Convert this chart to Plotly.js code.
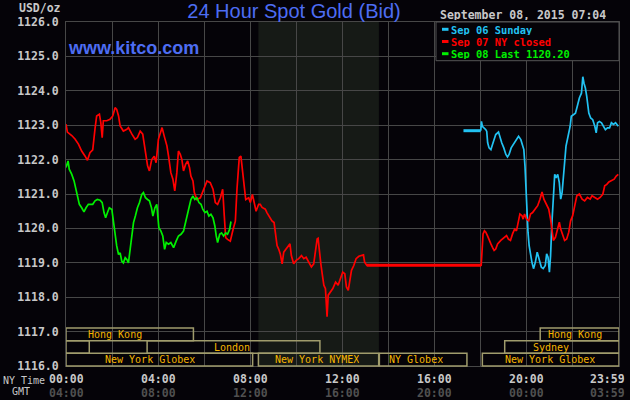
<!DOCTYPE html>
<html>
<head>
<meta charset="utf-8">
<script src="https://cdn.plot.ly/plotly-3.0.1.min.js"></script>
<style>
  html, body { margin: 0; padding: 0; background: #050308; }
  #chart { width: 630px; height: 400px; }
</style>
</head>
<body>
<div id="chart"></div>
<script>
// ---------------- DATA (hours of NY time, price in USD/oz) ----------------
const sep06Hours = [18.00, 18.03, 18.07, 18.15, 18.22, 18.26, 18.30, 18.36, 18.44, 18.51, 18.58, 18.65, 18.77, 18.83, 18.91, 19.00, 19.09, 19.16, 19.23, 19.32, 19.41, 19.52, 19.64, 19.74, 19.81, 19.87, 19.92, 19.96, 20.00, 20.05, 20.10, 20.16, 20.22, 20.29, 20.37, 20.45, 20.54, 20.63, 20.71, 20.80, 20.86, 20.92, 20.98, 21.03, 21.09, 21.15, 21.21, 21.27, 21.34, 21.41, 21.47, 21.53, 21.58, 21.64, 21.70, 21.79, 21.88, 21.93, 22.02, 22.11, 22.19, 22.28, 22.37, 22.43, 22.48, 22.54, 22.60, 22.69, 22.77, 22.86, 22.95, 23.01, 23.07, 23.15, 23.24, 23.33, 23.41, 23.50, 23.59, 23.67, 23.76, 23.85, 23.97];
const sep06Price = [1122.84, 1123.11, 1122.97, 1122.92, 1122.87, 1122.82, 1122.49, 1122.34, 1122.29, 1122.44, 1122.63, 1122.73, 1122.80, 1122.63, 1122.49, 1122.34, 1122.15, 1122.08, 1122.15, 1122.34, 1122.44, 1122.58, 1122.68, 1122.58, 1122.39, 1122.29, 1121.81, 1121.14, 1120.37, 1119.89, 1119.50, 1119.21, 1119.02, 1118.83, 1119.02, 1119.31, 1119.12, 1118.87, 1118.83, 1118.92, 1119.26, 1119.16, 1118.73, 1119.21, 1120.18, 1121.04, 1121.57, 1121.47, 1121.57, 1121.33, 1120.85, 1121.04, 1121.43, 1121.91, 1122.39, 1122.68, 1122.97, 1123.26, 1123.31, 1123.35, 1123.55, 1123.79, 1123.93, 1124.41, 1124.22, 1124.08, 1123.84, 1123.35, 1123.21, 1123.16, 1122.97, 1122.78, 1123.07, 1123.11, 1123.07, 1122.97, 1122.87, 1122.92, 1122.92, 1123.07, 1123.02, 1123.07, 1122.97];
const sep06FlatHours = [17.25, 18.00];
const sep06FlatPrice = [1122.84, 1122.84];

const sep07Hours = [0.00, 0.06, 0.25, 0.39, 0.54, 0.68, 0.83, 0.93, 1.04, 1.16, 1.26, 1.33, 1.45, 1.51, 1.57, 1.62, 1.77, 1.91, 2.03, 2.13, 2.20, 2.28, 2.35, 2.49, 2.64, 2.71, 2.86, 3.00, 3.10, 3.22, 3.33, 3.43, 3.54, 3.62, 3.72, 3.83, 3.91, 4.01, 4.12, 4.17, 4.26, 4.38, 4.45, 4.55, 4.64, 4.72, 4.81, 4.88, 4.96, 5.03, 5.10, 5.19, 5.28, 5.36, 5.42, 5.51, 5.57, 5.68, 5.83, 5.97, 6.12, 6.26, 6.38, 6.48, 6.58, 6.70, 6.80, 6.87, 6.93, 7.01, 7.13, 7.25, 7.35, 7.42, 7.52, 7.59, 7.65, 7.74, 7.80, 7.93, 8.00, 8.09, 8.17, 8.25, 8.36, 8.43, 8.51, 8.65, 8.72, 8.83, 8.94, 9.03, 9.09, 9.16, 9.23, 9.30, 9.38, 9.45, 9.55, 9.64, 9.72, 9.78, 9.88, 9.99, 10.10, 10.22, 10.32, 10.42, 10.54, 10.65, 10.75, 10.83, 10.90, 10.94, 11.00, 11.06, 11.12, 11.19, 11.26, 11.30, 11.33, 11.38, 11.48, 11.58, 11.70, 11.81, 11.91, 12.01, 12.10, 12.17, 12.25, 12.32, 12.39, 12.49, 12.59, 12.71, 12.83, 12.91, 12.96, 13.03, 13.05, 18.02, 18.04, 18.10, 18.16, 18.22, 18.29, 18.36, 18.44, 18.51, 18.58, 18.65, 18.73, 18.87, 19.02, 19.12, 19.20, 19.29, 19.38, 19.47, 19.55, 19.64, 19.70, 19.79, 19.84, 19.90, 19.99, 20.08, 20.16, 20.25, 20.35, 20.47, 20.57, 20.66, 20.74, 20.83, 20.95, 21.03, 21.09, 21.15, 21.24, 21.32, 21.41, 21.47, 21.56, 21.64, 21.73, 21.82, 21.90, 21.99, 22.08, 22.17, 22.28, 22.40, 22.51, 22.63, 22.75, 22.83, 22.95, 23.07, 23.18, 23.30, 23.38, 23.47, 23.56, 23.67, 23.79, 23.88, 23.97];
const sep07Price = [1123.03, 1122.80, 1122.70, 1122.60, 1122.45, 1122.25, 1122.10, 1121.98, 1122.20, 1122.28, 1122.90, 1123.27, 1123.32, 1123.08, 1122.64, 1123.13, 1123.13, 1123.17, 1123.27, 1123.51, 1123.46, 1123.27, 1122.98, 1122.83, 1122.88, 1122.93, 1122.74, 1122.59, 1122.64, 1122.83, 1122.74, 1122.25, 1121.82, 1121.67, 1122.00, 1122.10, 1121.91, 1122.59, 1122.83, 1122.93, 1122.69, 1122.40, 1122.10, 1121.62, 1121.43, 1121.09, 1121.62, 1122.25, 1122.15, 1122.00, 1121.67, 1121.86, 1121.96, 1121.77, 1121.52, 1121.38, 1121.04, 1120.84, 1120.89, 1121.14, 1121.38, 1121.33, 1121.14, 1120.75, 1120.70, 1120.89, 1121.14, 1120.36, 1119.73, 1119.68, 1119.63, 1119.97, 1120.21, 1121.14, 1122.06, 1122.10, 1121.72, 1121.14, 1120.84, 1120.89, 1120.75, 1120.99, 1120.70, 1120.50, 1120.70, 1120.70, 1120.61, 1120.56, 1120.46, 1120.32, 1120.22, 1120.17, 1119.84, 1119.50, 1119.40, 1119.26, 1118.97, 1119.31, 1119.40, 1119.50, 1119.55, 1119.21, 1118.97, 1119.07, 1119.12, 1119.21, 1119.12, 1119.16, 1119.02, 1118.88, 1118.97, 1119.31, 1119.69, 1119.71, 1119.21, 1118.97, 1118.68, 1118.35, 1118.25, 1117.87, 1117.43, 1118.06, 1118.15, 1118.25, 1118.44, 1118.35, 1118.54, 1118.73, 1118.68, 1118.30, 1118.20, 1118.44, 1118.78, 1118.92, 1119.12, 1119.19, 1119.21, 1119.23, 1119.02, 1118.94, 1118.93, 1118.93, 1119.31, 1119.84, 1119.93, 1119.89, 1119.79, 1119.65, 1119.55, 1119.45, 1119.36, 1119.40, 1119.55, 1119.65, 1119.74, 1119.79, 1119.69, 1119.65, 1119.84, 1119.98, 1119.93, 1120.27, 1120.42, 1120.37, 1120.27, 1120.42, 1120.27, 1120.22, 1120.42, 1120.46, 1120.56, 1120.66, 1120.85, 1121.06, 1120.85, 1120.71, 1120.56, 1120.27, 1119.98, 1119.65, 1119.74, 1119.93, 1120.18, 1119.98, 1119.79, 1119.65, 1119.69, 1119.89, 1120.22, 1120.37, 1120.66, 1120.95, 1121.00, 1120.85, 1120.80, 1120.90, 1120.85, 1120.95, 1120.90, 1120.85, 1120.90, 1121.00, 1121.24, 1121.28, 1121.35, 1121.38, 1121.43, 1121.52, 1121.57];
const sep07FlatHours = [13.05, 18.02];
const sep07FlatPrice = [1118.93, 1118.93];

const sep08Hours = [0.00, 0.09, 0.14, 0.25, 0.35, 0.43, 0.51, 0.58, 0.68, 0.78, 0.87, 0.97, 1.07, 1.16, 1.26, 1.36, 1.48, 1.57, 1.65, 1.72, 1.80, 1.88, 1.99, 2.06, 2.13, 2.20, 2.28, 2.35, 2.42, 2.49, 2.57, 2.64, 2.71, 2.78, 2.86, 2.93, 3.01, 3.10, 3.19, 3.29, 3.36, 3.45, 3.54, 3.62, 3.71, 3.77, 3.86, 3.94, 4.03, 4.12, 4.20, 4.28, 4.35, 4.45, 4.55, 4.67, 4.78, 4.88, 4.99, 5.10, 5.17, 5.25, 5.33, 5.42, 5.51, 5.59, 5.68, 5.77, 5.86, 5.94, 6.03, 6.12, 6.20, 6.29, 6.38, 6.46, 6.52, 6.58, 6.67, 6.75, 6.84, 6.93, 7.01, 7.10, 7.16];
const sep08Price = [1121.77, 1121.96, 1121.72, 1121.57, 1121.38, 1121.14, 1120.94, 1120.70, 1120.60, 1120.48, 1120.60, 1120.70, 1120.70, 1120.70, 1120.80, 1120.84, 1120.82, 1120.75, 1120.46, 1120.31, 1120.46, 1120.60, 1120.55, 1120.17, 1119.78, 1119.49, 1119.24, 1119.29, 1119.05, 1119.00, 1119.15, 1119.10, 1119.00, 1119.39, 1119.78, 1120.17, 1120.36, 1120.60, 1120.75, 1120.99, 1121.04, 1120.89, 1120.84, 1120.80, 1120.60, 1120.36, 1120.60, 1120.70, 1120.02, 1119.92, 1119.78, 1119.39, 1119.59, 1119.54, 1119.59, 1119.44, 1119.63, 1119.78, 1119.83, 1119.92, 1120.12, 1120.36, 1120.65, 1120.84, 1120.94, 1120.84, 1120.89, 1120.75, 1120.70, 1120.55, 1120.46, 1120.50, 1120.36, 1120.41, 1120.31, 1120.07, 1119.78, 1119.59, 1119.83, 1119.87, 1119.78, 1119.87, 1119.83, 1119.97, 1120.20];

const legendLabels = ["Sep 06 Sunday", "Sep 07 NY closed", "Sep 08 Last 1120.20"];
const nyTimeLabels = ["00:00", "04:00", "08:00", "12:00", "16:00", "20:00", "23:59"];
const gmtTimeLabels = ["04:00", "08:00", "12:00", "16:00", "20:00", "00:00", "03:59"];
const timeLabelHours = [0, 4, 8, 12, 16, 20, 24];

// market sessions (row 1 = top)
const sessionNames = ["Hong Kong", "Hong Kong", "", "London", "Sydney", "New York Globex", "New York NYMEX", "NY Globex", "New York Globex"];
const sessionStart = [0, 20.58, 0, 3.52, 19.04, 0, 8.35, 13.60, 18.07];
const sessionEnd   = [5.53, 24, 1.01, 11.02, 24, 8.10, 13.57, 17.40, 24];
const sessionRow   = [1, 1, 2, 2, 2, 3, 3, 3, 3];
const sessionLabelHour = [2.13, 22.10, null, 7.22, 21.03, 3.65, 10.91, 15.20, 21.00];
const comexOpen = [8.35, 13.58];

// ---------------- LAYOUT ----------------
const W = 630, H = 400, L = 66, R = 11, T = 22, B = 34;
const pw = W - L - R, ph = H - T - B;
const px2x = p => (p - L) / pw;
const py2y = p => (H - B - p) / ph;

const BG = "#050308";
const GRID = "#474747";
const GREY = "#c8c8c8";
const BLUE = "#4d6df3";
const CYAN = "#22c2f2";
const RED = "#ff0000";
const GREEN = "#00f000";
const MONO = "DejaVu Sans Mono";

const traces = [
  {x: sep06Hours, y: sep06Price, type: "scatter", mode: "lines", line: {color: CYAN, width: 1.7}, hoverinfo: "skip"},
  {x: sep06FlatHours, y: sep06FlatPrice, type: "scatter", mode: "lines", line: {color: CYAN, width: 3}, hoverinfo: "skip"},
  {x: sep07Hours, y: sep07Price, type: "scatter", mode: "lines", line: {color: RED, width: 1.7}, hoverinfo: "skip"},
  {x: sep07FlatHours, y: sep07FlatPrice, type: "scatter", mode: "lines", line: {color: RED, width: 3}, hoverinfo: "skip"},
  {x: sep08Hours, y: sep08Price, type: "scatter", mode: "lines", line: {color: GREEN, width: 1.7}, hoverinfo: "skip"}
];

const shapes = [];
const annotations = [];

// COMEX shaded hours
shapes.push({type: "rect", xref: "x", yref: "paper", x0: comexOpen[0], x1: comexOpen[1], y0: 0, y1: 1,
  fillcolor: "#161a16", line: {width: 0}, layer: "below"});

// session boxes
const rowTop = {1: py2y(328), 2: py2y(340.7), 3: py2y(353.3)};
const rowBot = {1: py2y(340.7), 2: py2y(353.3), 3: py2y(366)};
for (let i = 0; i < sessionNames.length; i++) {
  const r = sessionRow[i];
  shapes.push({type: "rect", xref: "x", yref: "paper", x0: sessionStart[i], x1: sessionEnd[i],
    y0: rowBot[r], y1: rowTop[r], line: {color: "#a09c6c", width: 1.5}, fillcolor: "rgba(0,0,0,0)", layer: "above"});
  if (sessionNames[i]) {
    annotations.push({xref: "x", yref: "paper", x: sessionLabelHour[i], y: (rowTop[r] + rowBot[r]) / 2,
      text: sessionNames[i], showarrow: false, xanchor: "center", yanchor: "middle", height: 11,
      font: {family: MONO, size: 10, color: "#f5b400"}});
  }
}

// legend box
shapes.push({type: "rect", xref: "paper", yref: "paper", x0: px2x(436), x1: 1, y0: py2y(60.7), y1: 1,
  fillcolor: BG, line: {color: "#555555", width: 1}, layer: "above"});
const legendColors = [CYAN, RED, GREEN];
const legendY = [29.3, 41.5, 53.7];
for (let i = 0; i < legendLabels.length; i++) {
  shapes.push({type: "line", xref: "paper", yref: "paper", x0: px2x(442), x1: px2x(448.5),
    y0: py2y(legendY[i]), y1: py2y(legendY[i]), line: {color: legendColors[i], width: 3}, layer: "above"});
  annotations.push({xref: "paper", yref: "paper", x: px2x(450), y: py2y(legendY[i]), text: legendLabels[i],
    showarrow: false, xanchor: "left", yanchor: "middle", height: 11, borderpad: 0,
    font: {family: MONO, size: 10.4, color: legendColors[i], weight: "bold"}});
}

// date/time stamp
annotations.push({xref: "paper", yref: "paper", x: px2x(439), y: py2y(15), text: "September 08, 2015 07:04",
  showarrow: false, xanchor: "left", yanchor: "middle", height: 11, borderpad: 0,
  font: {family: MONO, size: 11.5, color: GREY, weight: "bold"}});
// units
annotations.push({xref: "paper", yref: "paper", x: px2x(63), y: py2y(8), text: "USD/oz",
  showarrow: false, xanchor: "right", yanchor: "middle", font: {family: MONO, size: 11.5, color: GREY, weight: "bold"}});
// website
annotations.push({xref: "paper", yref: "paper", x: px2x(66), y: py2y(48), text: "www.kitco.com",
  showarrow: false, xanchor: "left", yanchor: "middle",
  font: {family: "Liberation Sans", size: 18, color: BLUE, weight: "bold"}});
// row captions
annotations.push({xref: "paper", yref: "paper", x: px2x(24), y: py2y(380), text: "NY Time",
  showarrow: false, xanchor: "center", yanchor: "middle", height: 11, font: {family: MONO, size: 10, color: GREY}});
annotations.push({xref: "paper", yref: "paper", x: px2x(20.5), y: py2y(392), text: "GMT",
  showarrow: false, xanchor: "center", yanchor: "middle", height: 11, font: {family: MONO, size: 10, color: GREY}});
// time labels
for (let i = 0; i < timeLabelHours.length; i++) {
  const last = i === timeLabelHours.length - 1;
  annotations.push({xref: "x", yref: "paper", x: timeLabelHours[i], y: py2y(378.7), text: nyTimeLabels[i],
    showarrow: false, xanchor: last ? "right" : "center", xshift: last ? 8 : 0, yanchor: "middle", height: 12,
    font: {family: MONO, size: 11.5, color: GREY, weight: "bold"}});
  annotations.push({xref: "x", yref: "paper", x: timeLabelHours[i], y: py2y(393.3), text: gmtTimeLabels[i],
    showarrow: false, xanchor: last ? "right" : "center", xshift: last ? 8 : 0, yanchor: "middle", height: 12,
    font: {family: MONO, size: 11.5, color: "#505050", weight: "bold"}});
}

const gridTicks = [];
for (let h = 0; h <= 24; h += 2) gridTicks.push(h);

const layout = {
  width: W, height: H,
  margin: {l: L, r: R, t: T, b: B, pad: 0},
  paper_bgcolor: BG, plot_bgcolor: BG,
  showlegend: false,
  title: {text: "24 Hour Spot Gold (Bid)", xref: "container", yref: "container", x: 294 / W, y: 1 - 11 / H,
    xanchor: "center", yanchor: "middle", font: {family: "Liberation Sans", size: 20, color: BLUE}},
  xaxis: {range: [0, 24], tickmode: "array", tickvals: gridTicks, showticklabels: false,
    showgrid: true, gridcolor: GRID, gridwidth: 1, zeroline: false, ticks: "",
    showline: true, mirror: true, linecolor: GRID, linewidth: 1, fixedrange: true},
  yaxis: {range: [1116, 1126], tickmode: "linear", tick0: 1116, dtick: 1, tickformat: ".1f",
    showgrid: true, gridcolor: GRID, gridwidth: 1, zeroline: false, ticks: "", ticklabelstandoff: 4,
    showline: true, mirror: true, linecolor: GRID, linewidth: 1,
    tickfont: {family: MONO, size: 11.5, color: GREY, weight: "bold"}, fixedrange: true},
  shapes: shapes,
  annotations: annotations
};

Plotly.newPlot("chart", traces, layout, {staticPlot: true, displayModeBar: false});
</script>
</body>
</html>
